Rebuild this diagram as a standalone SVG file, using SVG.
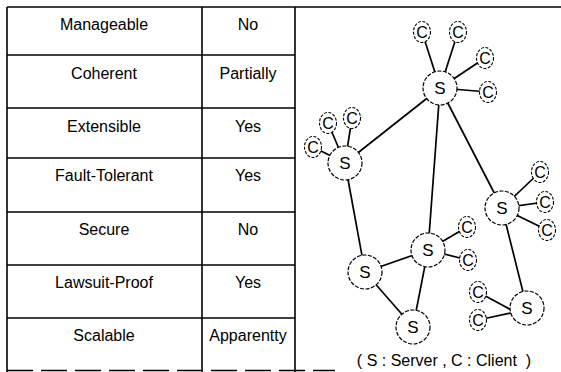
<svg xmlns="http://www.w3.org/2000/svg" width="561" height="372" viewBox="0 0 561 372">
<style>
.frame{stroke:#000;stroke-width:1.6;fill:none}
.t{font-family:"Liberation Sans",Arial,sans-serif;font-size:16px;fill:#000;text-anchor:middle}
.edge{stroke:#000;stroke-width:1.7;fill:none}
.srv{fill:#fff;stroke:#000;stroke-width:1.2;stroke-dasharray:4 1.5}
.cli{fill:#fff;stroke:#000;stroke-width:1.1;stroke-dasharray:3 1.5}
.ls{font-family:"Liberation Sans",Arial,sans-serif;font-size:17px;fill:#000;text-anchor:middle}
.lc{font-family:"Liberation Sans",Arial,sans-serif;font-size:16px;fill:#000;text-anchor:middle}
.cap{font-family:"Liberation Sans",Arial,sans-serif;font-size:16px;fill:#000;text-anchor:middle;white-space:pre}
</style>
<rect width="561" height="372" fill="#fff"/>
<g id="table">
<line class="frame" x1="7" y1="7" x2="561" y2="7" stroke-width="2"/>
<line class="frame" x1="7" y1="7" x2="7" y2="372"/>
<line class="frame" x1="202" y1="7" x2="202" y2="372"/>
<line class="frame" x1="295" y1="7" x2="295" y2="372"/>
<line class="frame" x1="7" y1="55" x2="295" y2="55"/>
<line class="frame" x1="7" y1="108" x2="295" y2="108"/>
<line class="frame" x1="7" y1="158" x2="295" y2="158"/>
<line class="frame" x1="7" y1="212" x2="295" y2="212"/>
<line class="frame" x1="7" y1="265" x2="295" y2="265"/>
<line class="frame" x1="7" y1="318" x2="295" y2="318"/>
<line class="frame" x1="7" y1="370.5" x2="335" y2="370.5" stroke-dasharray="26 8"/>
<text class="t" x="104" y="30">Manageable</text><text class="t" x="248" y="30">No</text>
<text class="t" x="104" y="79">Coherent</text><text class="t" x="248" y="79">Partially</text>
<text class="t" x="104" y="132">Extensible</text><text class="t" x="248" y="132">Yes</text>
<text class="t" x="104" y="181">Fault-Tolerant</text><text class="t" x="248" y="181">Yes</text>
<text class="t" x="104" y="235">Secure</text><text class="t" x="248" y="235">No</text>
<text class="t" x="104" y="288">Lawsuit-Proof</text><text class="t" x="248" y="288">Yes</text>
<text class="t" x="104" y="341">Scalable</text><text class="t" x="248" y="341">Apparentty</text>
</g>
<g id="connectors">
<line class="edge" x1="440" y1="88" x2="345" y2="163"/>
<line class="edge" x1="440" y1="88" x2="428" y2="250"/>
<line class="edge" x1="440" y1="88" x2="502" y2="208"/>
<line class="edge" x1="345" y1="163" x2="365" y2="272"/>
<line class="edge" x1="365" y1="272" x2="428" y2="250"/>
<line class="edge" x1="365" y1="272" x2="413" y2="327"/>
<line class="edge" x1="428" y1="250" x2="413" y2="327"/>
<line class="edge" x1="502" y1="208" x2="527" y2="308"/>
<line class="edge" x1="440" y1="88" x2="422" y2="32"/>
<line class="edge" x1="440" y1="88" x2="458" y2="32"/>
<line class="edge" x1="440" y1="88" x2="485" y2="58"/>
<line class="edge" x1="440" y1="88" x2="488" y2="92"/>
<line class="edge" x1="345" y1="163" x2="328" y2="123"/>
<line class="edge" x1="345" y1="163" x2="352" y2="118"/>
<line class="edge" x1="345" y1="163" x2="313" y2="147"/>
<line class="edge" x1="502" y1="208" x2="540" y2="172"/>
<line class="edge" x1="502" y1="208" x2="545" y2="202"/>
<line class="edge" x1="502" y1="208" x2="547" y2="230"/>
<line class="edge" x1="428" y1="250" x2="467" y2="227"/>
<line class="edge" x1="428" y1="250" x2="468" y2="260"/>
<line class="edge" x1="478" y1="292" x2="515" y2="312"/>
<line class="edge" x1="478" y1="320" x2="515" y2="312"/>
</g>
<g id="s_top"><circle class="srv" cx="440" cy="88" r="17"/><text class="ls" x="440" y="94">S</text></g>
<g id="s_left"><circle class="srv" cx="345" cy="163" r="17"/><text class="ls" x="345" y="169">S</text></g>
<g id="s_right"><circle class="srv" cx="502" cy="208" r="17"/><text class="ls" x="502" y="214">S</text></g>
<g id="s_mid"><circle class="srv" cx="428" cy="250" r="17"/><text class="ls" x="428" y="256">S</text></g>
<g id="s_lowleft"><circle class="srv" cx="365" cy="272" r="17"/><text class="ls" x="365" y="278">S</text></g>
<g id="s_bottom"><circle class="srv" cx="413" cy="327" r="17"/><text class="ls" x="413" y="333">S</text></g>
<g id="s_bottomright"><circle class="srv" cx="527" cy="308" r="17"/><text class="ls" x="527" y="314">S</text></g>
<g id="c1"><ellipse class="cli" cx="422" cy="32" rx="8.5" ry="10.5"/><text class="lc" x="422" y="38">C</text></g>
<g id="c2"><ellipse class="cli" cx="458" cy="32" rx="8.5" ry="10.5"/><text class="lc" x="458" y="38">C</text></g>
<g id="c3"><ellipse class="cli" cx="485" cy="58" rx="8.5" ry="10.5"/><text class="lc" x="485" y="64">C</text></g>
<g id="c4"><ellipse class="cli" cx="488" cy="92" rx="8.5" ry="10.5"/><text class="lc" x="488" y="98">C</text></g>
<g id="c5"><ellipse class="cli" cx="328" cy="123" rx="8.5" ry="10.5"/><text class="lc" x="328" y="129">C</text></g>
<g id="c6"><ellipse class="cli" cx="352" cy="118" rx="8.5" ry="10.5"/><text class="lc" x="352" y="124">C</text></g>
<g id="c7"><ellipse class="cli" cx="313" cy="147" rx="8.5" ry="10.5"/><text class="lc" x="313" y="153">C</text></g>
<g id="c8"><ellipse class="cli" cx="540" cy="172" rx="8.5" ry="10.5"/><text class="lc" x="540" y="178">C</text></g>
<g id="c9"><ellipse class="cli" cx="545" cy="202" rx="8.5" ry="10.5"/><text class="lc" x="545" y="208">C</text></g>
<g id="c10"><ellipse class="cli" cx="547" cy="230" rx="8.5" ry="10.5"/><text class="lc" x="547" y="236">C</text></g>
<g id="c11"><ellipse class="cli" cx="467" cy="227" rx="8.5" ry="10.5"/><text class="lc" x="467" y="233">C</text></g>
<g id="c12"><ellipse class="cli" cx="468" cy="260" rx="8.5" ry="10.5"/><text class="lc" x="468" y="266">C</text></g>
<g id="c13"><ellipse class="cli" cx="478" cy="292" rx="8.5" ry="10.5"/><text class="lc" x="478" y="298">C</text></g>
<g id="c14"><ellipse class="cli" cx="478" cy="320" rx="8.5" ry="10.5"/><text class="lc" x="478" y="326">C</text></g>
<g id="caption"><text class="cap" x="444" y="366">( S : Server , C : Client  )</text></g>
</svg>
